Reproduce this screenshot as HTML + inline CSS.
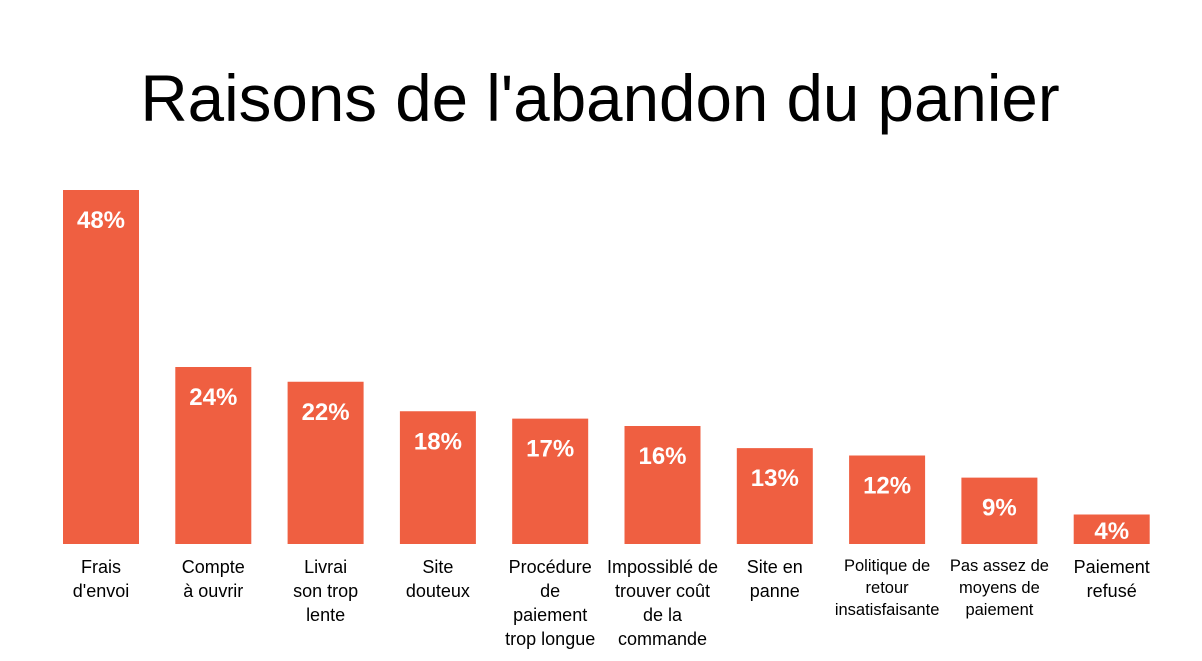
<!DOCTYPE html>
<html><head><meta charset="utf-8"><style>
body{margin:0;background:#fff;width:1202px;height:656px;overflow:hidden;font-family:"Liberation Sans",sans-serif}
</style></head><body>
<svg id="chart" width="1202" height="656">
<text x="600" y="121" text-anchor="middle" font-size="65.5" fill="#000">Raisons de l'abandon du panier</text>
</svg>
<script>
const categories=[["Frais","d'envoi"],["Compte","à ouvrir"],["Livrai","son trop","lente"],["Site","douteux"],["Procédure","de","paiement","trop longue"],["Impossiblé de","trouver coût","de la","commande"],["Site en","panne"],["Politique de","retour","insatisfaisante"],["Pas assez de","moyens de","paiement"],["Paiement","refusé"]];
const values=[48,24,22,18,17,16,13,12,9,4];
const smallLabel=[false,false,false,false,false,false,false,true,true,false];
const svg=document.getElementById('chart');
const NS='http://www.w3.org/2000/svg';
const x0=63,step=112.3,bw=76,base=544,scale=7.375;
const xPos=i=>x0+i*step;
const yPos=v=>base-v*scale;
values.forEach((v,i)=>{
  const r=document.createElementNS(NS,'rect');
  r.setAttribute('x',xPos(i));r.setAttribute('y',yPos(v));
  r.setAttribute('width',bw);r.setAttribute('height',base-yPos(v));
  r.setAttribute('fill','#EF5F41');
  
  
  svg.appendChild(r);
  const t=document.createElementNS(NS,'text');
  t.setAttribute('x',xPos(i)+bw/2);t.setAttribute('y',Math.min(yPos(v)+38,base-5));
  t.setAttribute('text-anchor','middle');t.setAttribute('font-size','24');
  t.setAttribute('font-weight','bold');t.setAttribute('fill','#fff');
  t.textContent=v+'%';
  
  
  svg.appendChild(t);
  const small=smallLabel[i];
  const lh=small?22:24;
  categories[i].forEach((line,j)=>{
    const c=document.createElementNS(NS,'text');
    c.setAttribute('x',xPos(i)+bw/2);c.setAttribute('y',(small?571:573)+j*lh);
    c.setAttribute('text-anchor','middle');c.setAttribute('font-size',small?'16.5':'18');
    c.setAttribute('fill','#000');
    c.textContent=line;
    
    
    svg.appendChild(c);
  });
});
</script>
</body></html>
